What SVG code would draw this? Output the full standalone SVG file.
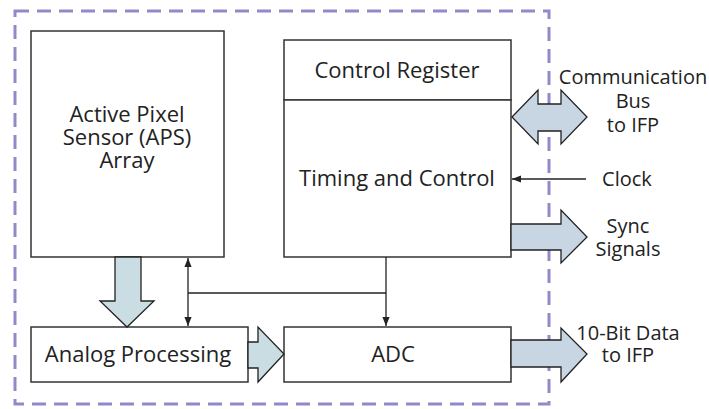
<svg xmlns="http://www.w3.org/2000/svg" width="709" height="409" viewBox="0 0 709 409">
<defs>
<style>
.box{fill:#fff;stroke:#333;stroke-width:1.5}
.t{font-family:"Open Sans",sans-serif;font-size:20px;fill:#222;text-anchor:middle}
.b{font-size:22px}
.fat{stroke:#222;stroke-width:1.3;stroke-linejoin:miter}
.fa{fill:#c9dde3}
.fb{fill:#c8d5e3}
.ln{fill:none;stroke:#222;stroke-width:1.3}
.border{fill:none;stroke:#8f8bc8;stroke-width:3;stroke-dasharray:14 8}
</style>
<marker id="ah" viewBox="0 0 10 10" refX="10" refY="5" markerWidth="9" markerHeight="9" markerUnits="userSpaceOnUse" orient="auto-start-reverse">
<path d="M0,1 L10,5 L0,9 Z" fill="#222"/>
</marker>
</defs>
<rect class="border" x="15" y="11" width="534" height="393"/>
<g id="aps">
<rect class="box" x="31" y="31" width="193" height="226"/>
<text class="t b" x="127" y="122">Active Pixel</text>
<text class="t b" x="127" y="145">Sensor (APS)</text>
<text class="t b" x="127" y="168">Array</text>
</g>
<g id="control-register">
<rect class="box" x="284" y="40" width="227" height="60"/>
<text class="t b" x="397" y="78">Control Register</text>
</g>
<g id="timing-control">
<rect class="box" x="284" y="100" width="227" height="157"/>
<text class="t b" x="397" y="186">Timing and Control</text>
</g>
<g id="analog-processing">
<rect class="box" x="31" y="327" width="217" height="55"/>
<text class="t b" x="138" y="362">Analog Processing</text>
</g>
<g id="adc">
<rect class="box" x="284" y="327" width="227" height="55"/>
<text class="t b" x="393" y="362">ADC</text>
</g>
<g id="labels">
<text class="t" x="633" y="84">Communication</text>
<text class="t" x="633" y="108">Bus</text>
<text class="t" x="633" y="132">to IFP</text>
<text class="t" x="627" y="186">Clock</text>
<text class="t" x="628" y="233">Sync</text>
<text class="t" x="628" y="256">Signals</text>
<text class="t" x="628" y="340">10-Bit Data</text>
<text class="t" x="628" y="362">to IFP</text>
</g>
<g id="connectors">
<path class="fat fa" d="M115,257 L141,257 L141,301 L154,301 L127,327 L100,301 L115,301 Z"/>
<path class="fat fa" d="M248,342 L258,342 L258,327 L284,354 L258,382 L258,368 L248,368 Z"/>
<path class="fat fb" d="M512,117 L538,90 L538,104 L561,104 L561,90 L587,117 L561,144 L561,131 L538,131 L538,144 Z"/>
<path class="fat fb" d="M511,224 L561,224 L561,210 L587,237 L561,263 L561,250 L511,250 Z"/>
<path class="fat fb" d="M511,340 L561,340 L561,328 L587,354 L561,382 L561,367 L511,367 Z"/>
<line class="ln" x1="586" y1="179" x2="512" y2="179" marker-end="url(#ah)"/>
<line class="ln" x1="188" y1="258" x2="188" y2="326" marker-start="url(#ah)" marker-end="url(#ah)"/>
<line class="ln" x1="188" y1="293" x2="386" y2="293"/>
<line class="ln" x1="386" y1="257" x2="386" y2="326" marker-end="url(#ah)"/>
</g>
</svg>
